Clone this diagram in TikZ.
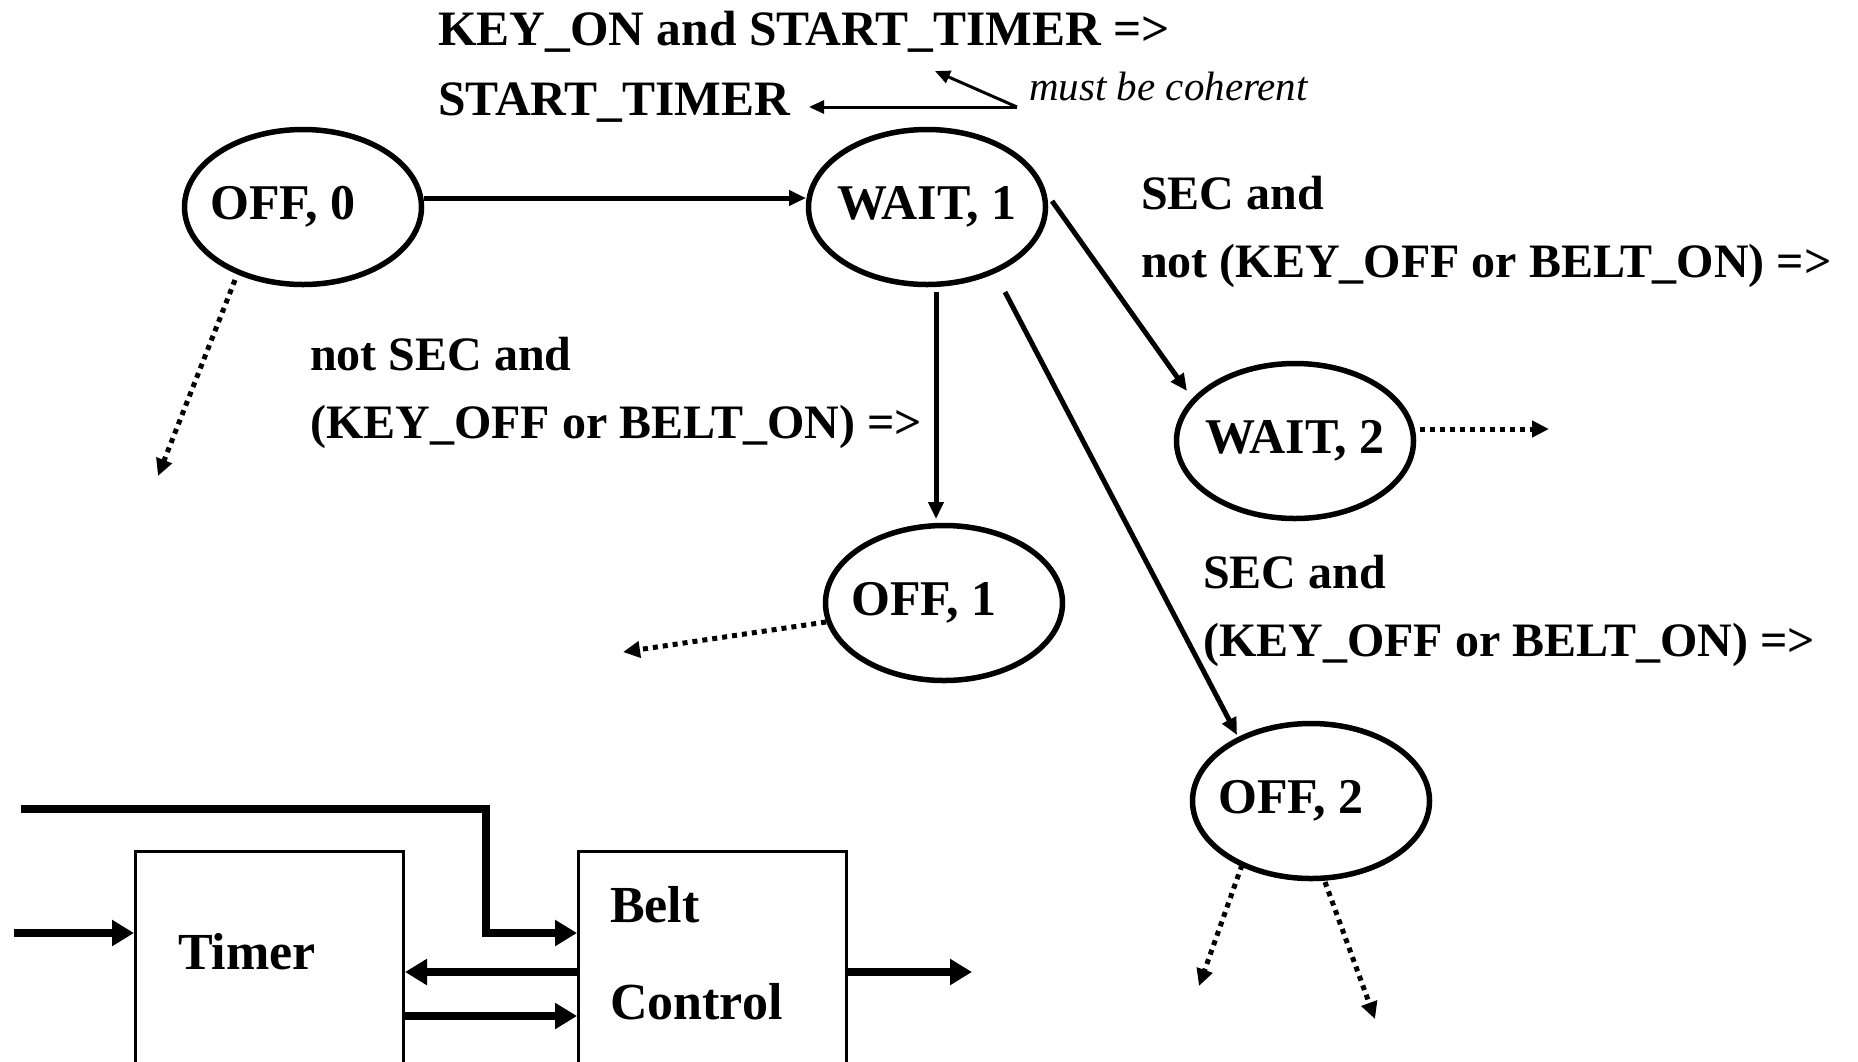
\documentclass[tikz,border=0pt]{standalone}
\usepackage{fontspec}
\setmainfont{Liberation Serif}
\usetikzlibrary{arrows.meta,calc,shapes.geometric}
\begin{document}
\begin{tikzpicture}[x=1pt,y=-1pt,
  state/.style={draw, ellipse, line width=5.5pt, minimum width=237pt, minimum height=155pt, inner sep=0pt},
  stxt/.style={font=\fontsize{50}{60}\selectfont\bfseries, inner sep=0pt},
  lbl/.style={font=\fontsize{48}{58}\selectfont\bfseries, inner sep=0pt, anchor=base west},
  toplbl/.style={font=\fontsize{49.5}{59}\selectfont\bfseries, inner sep=0pt, anchor=base west},
  ital/.style={font=\fontsize{41}{49}\selectfont\itshape, inner sep=0pt, anchor=base west},
  btxt/.style={font=\fontsize{52}{62}\selectfont\bfseries, inner sep=0pt, anchor=base west},
  tr/.style={line width=5pt, -{Triangle[length=17pt,width=15pt]}},
  thinarr/.style={line width=3pt, -{Triangle[length=15pt,width=13pt]}},
  dot/.style={line width=5pt, dash pattern=on 5pt off 5pt, -{Triangle[length=17pt,width=16pt]}},
  blk/.style={line width=8pt, -{Triangle[length=22pt,width=25pt]}},
  box/.style={draw, line width=3pt, anchor=north west, minimum width=268pt, minimum height=230pt, inner sep=0pt}
]
\useasboundingbox (0,0) rectangle (1858,1061);

% states
\node[state] (off0) at (303,207) {};
\node[state] (wait1) at (927,207) {};
\node[state] (wait2) at (1295,441) {};
\node[state] (off1) at (944,603) {};
\node[state] (off2) at (1311,801) {};
\node[stxt] (toff0) at ($(off0.center)+(-20,0)$) {OFF, 0};
\node[stxt] (twait1) at (wait1.center) {WAIT, 1};
\node[stxt] (twait2) at (wait2.center) {WAIT, 2};
\node[stxt] (toff1) at ($(off1.center)+(-20,0)$) {OFF, 1};
\node[stxt] (toff2) at ($(off2.center)+(-20,0)$) {OFF, 2};

% free ends
\coordinate (d0) at (158,476);
\coordinate (d1) at (623,652);
\coordinate (d2) at (1549,429);
\coordinate (d3) at (1199,986);
\coordinate (d4) at (1375,1019);

% transitions
\draw[tr] ($(off0.center)+(121,-9)$) -- ($(wait1.center)+(-121,-9)$);
\draw[tr] ($(wait1.center)+(125,-6)$) -- ($(wait2.center)+(-108,-50)$);
\draw[tr] ($(wait1.center)+(9,85)$) -- ($(off1.center)+(-8,-84)$);
\draw[tr] ($(wait1.center)+(78,85)$) -- ($(off2.center)+(-74,-66)$);

\draw[dot] ($(off0.center)+(-68,73)$) -- (d0);
\draw[dot] ($(wait2.center)+(125,-12)$) -- (d2);
\draw[dot] ($(off1.center)+(-118,19)$) -- (d1);
\draw[dot] ($(off2.center)+(-69,64)$) -- (d3);
\draw[dot] ($(off2.center)+(14,81)$) -- (d4);

% top annotation
\node[toplbl] (k1) at (438,45) {KEY\_ON and START\_TIMER =>};
\node[toplbl] (k2) at (438,115) {START\_TIMER};
\node[ital] (mc) at (1029,100) {must be coherent};
\coordinate (c) at (1017,107);
\coordinate (c1) at (809,107);
\coordinate (c2) at (935,71);
\draw[thinarr] (c) -- (c1);
\draw[thinarr] (c) -- (c2);

% labels
\node[lbl] (l1a) at (310,370) {not SEC and};
\node[lbl] (l1b) at (310,438) {(KEY\_OFF or BELT\_ON) =>};
\node[lbl] (l2a) at (1141,209) {SEC and};
\node[lbl] (l2b) at (1141,277) {not (KEY\_OFF or BELT\_ON) =>};
\node[lbl] (l3a) at (1203,588) {SEC and};
\node[lbl] (l3b) at (1203,656) {(KEY\_OFF or BELT\_ON) =>};

% block diagram
\node[box] (timer) at (134,850) {};
\node[box] (belt) at (577,850) {};
\node[btxt] (ttimer) at (178,969) {Timer};
\node[btxt] (tbelt) at (610,922) {Belt};
\node[btxt] (tcontrol) at (610,1019) {Control};

\coordinate (in1) at (21,809);
\coordinate (in2) at (14,933);
\coordinate (out) at (972,972);
\draw[blk] (in1) -| ($(belt.north west)+(-91,83)$) -- ($(belt.north west)+(0,83)$);
\draw[blk] (in2) -- (timer.west |- in2);
\draw[blk] ($(belt.north west)+(0,122)$) -- ($(timer.north east)+(0,122)$);
\draw[blk] ($(timer.north east)+(0,166)$) -- ($(belt.north west)+(0,166)$);
\draw[blk] ($(belt.north east)+(0,122)$) -- (out);
\end{tikzpicture}
\end{document}
